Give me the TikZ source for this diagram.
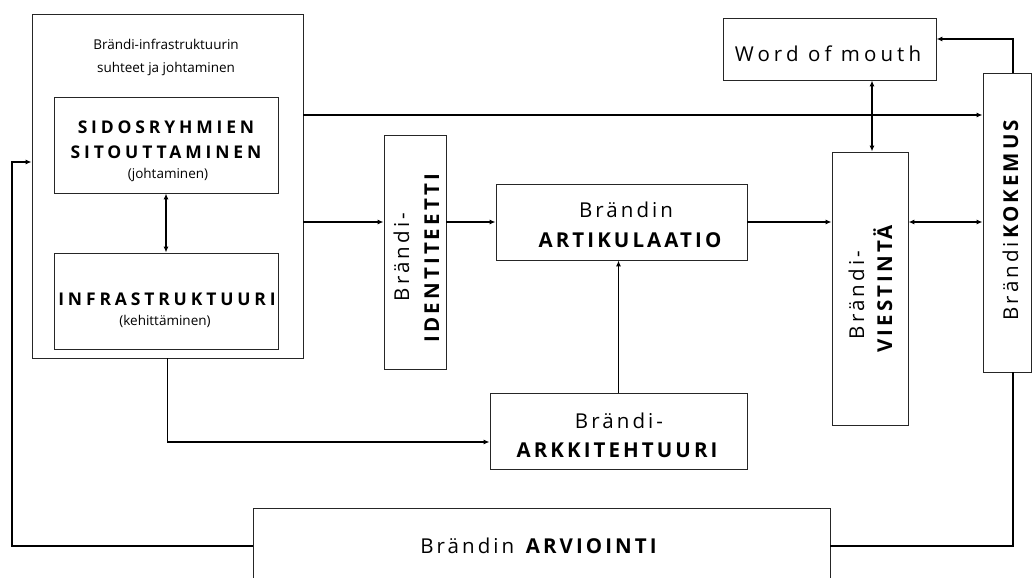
\documentclass[tikz,border=0pt]{standalone}
\usepackage{fontspec}
\setmainfont{Open Sans}
\newfontfamily\spc[LetterSpace=15]{Open Sans}
\newfontfamily\spw[LetterSpace=20]{Open Sans}
\newfontfamily\spcb[LetterSpace=22]{Open Sans}
\usetikzlibrary{arrows.meta}
\tikzset{
  box/.style={draw=black!85, line width=0.9pt, inner sep=0pt},
  conn/.style={line width=1.4pt, black},
  arr/.style={conn, -{Latex[length=6pt,width=5pt]}},
  arrb/.style={conn, {Latex[length=6pt,width=5pt]}-{Latex[length=6pt,width=5pt]}},
  txt/.style={inner sep=0pt, anchor=base},
  small/.style={txt, font=\fontsize{13.5}{13.5}\selectfont},
  paren/.style={txt, font=\fontsize{13.5}{13.5}\selectfont},
  head/.style={txt, font=\fontsize{17.5}{17.5}\selectfont\spcb\bfseries},
  big/.style={txt, font=\fontsize{20.5}{20.5}\selectfont\spc},
  bigw/.style={txt, font=\fontsize{20.5}{20.5}\selectfont\spw},
}
\begin{document}
\begin{tikzpicture}[x=1pt,y=-1pt]
\useasboundingbox (0,0) rectangle (1033,578);
\clip (0,0) rectangle (1033,578);
\fill[white] (0,0) rectangle (1033,578);
% boxes
\node[box, minimum width=271, minimum height=344] (outer) at (167.5,186) {};
\node[box, minimum width=224, minimum height=96] (sidos) at (166,145) {};
\node[box, minimum width=224, minimum height=96] (infra) at (166,301) {};
\node[box, minimum width=62, minimum height=234] (ident) at (415,252) {};
\node[box, minimum width=251, minimum height=76] (artik) at (621.5,222) {};
\node[box, minimum width=257, minimum height=76] (arkki) at (618.5,431) {};
\node[box, minimum width=76, minimum height=273] (viest) at (870,288.5) {};
\node[box, minimum width=48, minimum height=299] (koke) at (1007,222.5) {};
\node[box, minimum width=213, minimum height=62] (wom) at (829.5,49) {};
\node[box, minimum width=577, minimum height=80] (arvi) at (541.5,548) {};
% texts
\node[small] (t1) at (166,50) {Brändi-infrastruktuurin};
\node[small] (t2) at (166,72) {suhteet ja johtaminen};
\node[head] (s1) at (166,133) {SIDOSRYHMIEN};
\node[head] (s2) at (166,158) {SITOUTTAMINEN};
\node[paren] (s3) at (168,178) {(johtaminen)};
\node[head] (i1) at (167,305) {INFRASTRUKTUURI};
\node[paren] (i2) at (165,325) {(kehittäminen)};
\node[big, rotate=90] (id1) at (409,257) {Brändi-};
\node[big, rotate=90] (id2) at (439,258) {\bfseries IDENTITEETTI};
\node[big] (a1) at (626,217) {Brändin};
\node[big] (a2) at (630,247) {\bfseries ARTIKULAATIO};
\node[big] (k1) at (619,428) {Brändi-};
\node[big] (k2) at (617,457) {\bfseries ARKKITEHTUURI};
\node[big, rotate=90] (v1) at (864,295) {Brändi-};
\node[big, rotate=90] (v2) at (892,289) {\bfseries VIESTINTÄ};
\node[big, rotate=90] (ko) at (1018,218.5) {Brändi\textbf{KOKEMUS}};
\node[bigw] (w) at (828,62) {Word of mouth};
\node[big] (av) at (540,553) {Brändin \textbf{ARVIOINTI}};
% helper coordinates
\coordinate (yA) at (0,115);
\coordinate (yB) at (0,222);
\coordinate (yC) at (0,442);
\coordinate (yD) at (0,546);
\coordinate (yE) at (0,162);
\coordinate (yF) at (0,39);
\coordinate (xL) at (12,0);
\coordinate (xR) at (1013,0);
\coordinate (xW) at (872,0);
% connectors
\draw[arrb] (sidos.south) -- (infra.north);
\draw[arr] (outer.east |- yA) -- (koke.west |- yA);
\draw[arr] (outer.east |- yB) -- (ident.west |- yB);
\draw[arr] (ident.east |- yB) -- (artik.west |- yB);
\draw[arr] (arkki.north) -- (arkki.north |- artik.south);
\draw[arr] (artik.east |- yB) -- (viest.west |- yB);
\draw[arrb] (viest.east |- yB) -- (koke.west |- yB);
\draw[arrb] (xW |- wom.south) -- (xW |- viest.north);
\draw[arr] (xR |- koke.north) |- (wom.east |- yF);
\draw[arr] (outer.south) |- (arkki.west |- yC);
\draw[conn] (xR |- koke.south) |- (arvi.east |- yD);
\draw[arr] (arvi.west |- yD) -| (xL |- yE) -- (outer.west |- yE);
\end{tikzpicture}
\end{document}
